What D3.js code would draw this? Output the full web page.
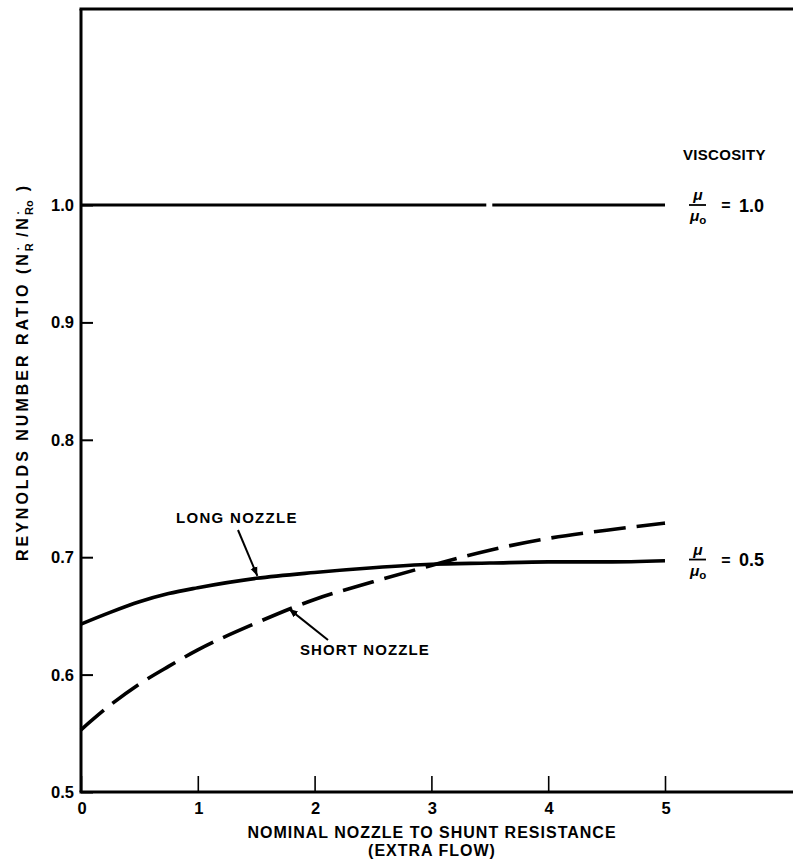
<!DOCTYPE html>
<html><head><meta charset="utf-8">
<script src="https://cdn.jsdelivr.net/npm/d3@7"></script>
<style>body{margin:0;background:#fff}svg{display:block}text{font-family:"Liberation Sans",Arial,sans-serif;font-weight:bold;fill:#000}</style>
</head><body><svg id="c" width="793" height="862"></svg>
<script>
const xTicks = [0,1,2,3,4,5];
const yTicks = [0.5,0.6,0.7,0.8,0.9,1.0];
const yTickLabels = ["0.5","0.6","0.7","0.8","0.9","1.0"];
const xs = [0,0.25,0.5,0.75,1,1.5,2,2.5,3,3.5,4,4.5,5];
const longNozzle05 = [0.643,0.653,0.662,0.669,0.674,0.682,0.687,0.691,0.694,0.695,0.696,0.696,0.697];
const shortNozzle05 = [0.553,0.574,0.592,0.607,0.621,0.644,0.664,0.679,0.693,0.706,0.716,0.723,0.729];
const visc10 = [1.0,1.0,1.0,1.0,1.0,1.0,1.0,1.0,1.0,1.0,1.0,1.0,1.0];

const svg = d3.select("#c");
const x = d3.scaleLinear().domain([0,5]).range([81,665]);
const y = d3.scaleLinear().domain([0.5,1.0]).range([792,205]);
const xMaxPx = 793, yTopPx = 9;

// frame
svg.append("line").attr("x1",81).attr("x2",81).attr("y1",yTopPx).attr("y2",y(0.5)).attr("stroke","#000").attr("stroke-width",3);
svg.append("line").attr("x1",79.5).attr("x2",xMaxPx).attr("y1",yTopPx).attr("y2",yTopPx).attr("stroke","#000").attr("stroke-width",3);
svg.append("line").attr("x1",79.5).attr("x2",xMaxPx).attr("y1",y(0.5)).attr("y2",y(0.5)).attr("stroke","#000").attr("stroke-width",3);

// y axis
const ya = svg.append("g").attr("transform","translate(81,0)")
  .call(d3.axisRight(y).tickValues(yTicks).tickSize(12).tickFormat(""));
ya.select(".domain").remove();
ya.selectAll("line").attr("stroke-width",2);
svg.selectAll(".ylab").data(yTicks).join("text").attr("class","ylab")
  .attr("x",74).attr("y",d=>y(d)+6).attr("text-anchor","end").attr("font-size",16.5)
  .text((d,i)=>yTickLabels[i]);

// x axis
const xa = svg.append("g").attr("transform",`translate(0,${y(0.5)})`)
  .call(d3.axisTop(x).tickValues(xTicks).tickSize(16).tickFormat(""));
xa.select(".domain").remove();
xa.selectAll("line").attr("stroke-width",1.6);
svg.selectAll(".xlab").data(xTicks).join("text").attr("class","xlab")
  .attr("x",d=>x(d)+1).attr("y",y(0.5)+22).attr("text-anchor","middle").attr("font-size",16.5)
  .text(d=>d);

// lines
const line = d3.line().x((d,i)=>x(xs[i])).y(d=>y(d)).curve(d3.curveMonotoneX);
const gap = x(3.47)-x(0);
svg.append("path").attr("d",line(visc10)).attr("fill","none").attr("stroke","#000").attr("stroke-width",3.2)
  .attr("stroke-dasharray",`${gap} 6 1000`);
svg.append("path").attr("d",line(longNozzle05)).attr("fill","none").attr("stroke","#000").attr("stroke-width",3.6);
svg.append("path").attr("d",line(shortNozzle05)).attr("fill","none").attr("stroke","#000").attr("stroke-width",3.6)
  .attr("stroke-dasharray","32 11").attr("stroke-dashoffset",2);

// arrows
svg.append("defs").append("marker").attr("id","ah").attr("viewBox","0 0 10 10").attr("refX",10).attr("refY",5)
  .attr("markerWidth",9).attr("markerHeight",9).attr("markerUnits","userSpaceOnUse").attr("orient","auto")
  .append("path").attr("d","M0,1 L10,5 L0,9 Z").attr("fill","#000");
function arrow(x0,y0,x1v,y1v){
  svg.append("line").attr("x1",x0).attr("y1",y0).attr("x2",x(x1v)).attr("y2",y(y1v)).attr("stroke","#000")
    .attr("stroke-width",2).attr("marker-end","url(#ah)");
}
svg.append("text").attr("x",176).attr("y",523).attr("font-size",15).attr("letter-spacing",1.3).text("LONG NOZZLE");
arrow(238,530,1.51,longNozzle05[5]+0.002);
svg.append("text").attr("x",300).attr("y",655).attr("font-size",15).attr("letter-spacing",1.1).text("SHORT NOZZLE");
arrow(328,640,1.78,0.656);

// viscosity legend
svg.append("text").attr("x",683).attr("y",160).attr("font-size",15).attr("letter-spacing",0.3).text("VISCOSITY");
function frac(v,label){
  const cy = y(v);
  const g = svg.append("g");
  g.append("text").attr("x",698).attr("y",cy-5).attr("text-anchor","middle").attr("font-size",15.5).attr("font-style","italic").text("μ");
  g.append("line").attr("x1",689).attr("x2",706).attr("y1",cy).attr("y2",cy).attr("stroke","#000").attr("stroke-width",1.8);
  const t = g.append("text").attr("x",690).attr("y",cy+16).attr("font-size",15.5);
  t.append("tspan").attr("font-style","italic").text("μ");
  t.append("tspan").attr("font-size",11.5).attr("dy",3).text("o");
  g.append("text").attr("x",726).attr("y",cy+6).attr("text-anchor","middle").attr("font-size",16).text("=");
  g.append("text").attr("x",739).attr("y",cy+6.5).attr("font-size",18).text(label);
}
frac(1.0,"1.0");
frac(0.698,"0.5");

// axis titles
const yt = svg.append("text").attr("transform","translate(28,372) rotate(-90)").attr("text-anchor","middle")
  .attr("font-size",16).attr("letter-spacing",3);
yt.append("tspan").text("REYNOLDS NUMBER RATIO (N");
yt.append("tspan").attr("font-size",11).attr("dy",5).attr("letter-spacing",0).text("R");
yt.append("tspan").attr("font-size",11).attr("dy",-11).attr("dx",-7).attr("letter-spacing",0).text("·");
yt.append("tspan").attr("dy",6).attr("dx",2).text(" /N");
yt.append("tspan").attr("font-size",11).attr("dy",5).attr("letter-spacing",0).text("Ro");
yt.append("tspan").attr("font-size",11).attr("dy",-11).attr("dx",-14).attr("letter-spacing",0).text("·");
yt.append("tspan").attr("dy",6).attr("dx",12).text(" )");

svg.append("text").attr("x",432).attr("y",838).attr("text-anchor","middle").attr("font-size",16).attr("letter-spacing",1).text("NOMINAL NOZZLE TO SHUNT RESISTANCE");
svg.append("text").attr("x",432).attr("y",856).attr("text-anchor","middle").attr("font-size",16).attr("letter-spacing",1).text("(EXTRA FLOW)");
</script></body></html>
